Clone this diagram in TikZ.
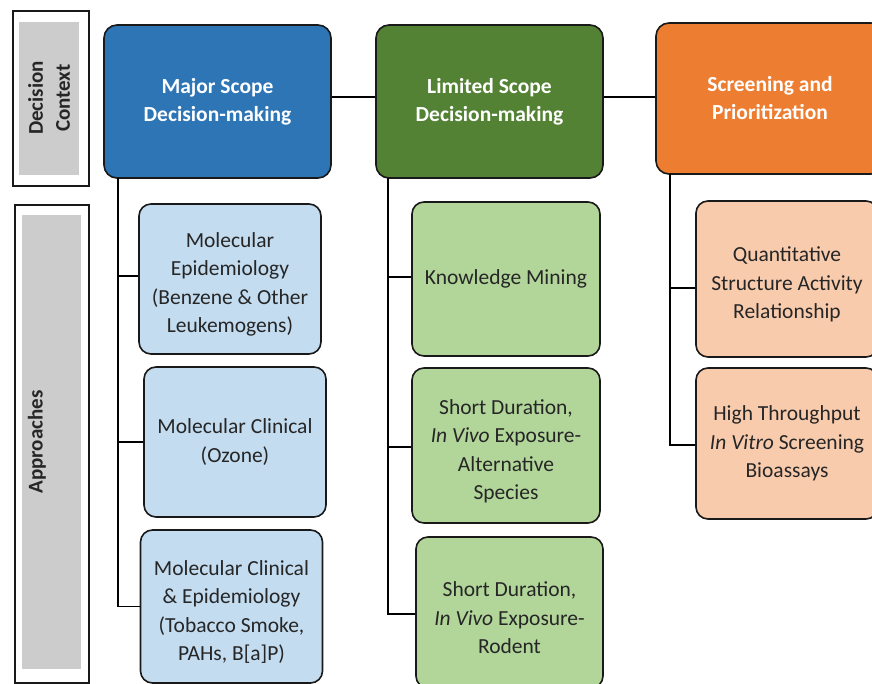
\documentclass[tikz,border=0pt]{standalone}
\usepackage{fontspec}
\setmainfont{Carlito}
\usepackage{tikz}
\usetikzlibrary{positioning}

\definecolor{majblue}{HTML}{2E75B6}
\definecolor{limgreen}{HTML}{548235}
\definecolor{scrorange}{HTML}{ED7D31}
\definecolor{lightblue}{HTML}{C3DCF0}
\definecolor{lightgreen}{HTML}{B2D69A}
\definecolor{lightpeach}{HTML}{F8CBAD}
\definecolor{labelgray}{HTML}{CCCCCC}
\definecolor{inktext}{HTML}{262626}

\newcommand{\topgap}{\rule{0pt}{26pt}}

\begin{document}
\begin{tikzpicture}[x=1pt,y=-1pt,line width=1.6pt,
	head/.style={draw=black!90,rounded corners=13pt,align=center,text=white,
		font=\fontsize{21.5}{28}\selectfont\bfseries,minimum width=227pt,minimum height=153pt},
	leaf/.style={draw=black!90,rounded corners=12pt,align=center,text=inktext,
		font=\fontsize{21.5}{28.5}\selectfont,minimum width=182pt,minimum height=150pt},
	sidebox/.style={draw=black!90,line width=1.3pt},
	sidetext/.style={rotate=90,align=center,text=inktext,font=\fontsize{21}{27}\selectfont\bfseries}]

\path[use as bounding box,clip] (0,0) rectangle (872,684);

% decision context
\draw[sidebox] (13,11) rectangle (89,186);
\fill[labelgray] (19,22) rectangle (79,175);
\node[sidetext]	(dc) at (49,98)	{Decision\\Context};

% approaches
\draw[sidebox] (15,205) rectangle (89,683);
\fill[labelgray] (22,215) rectangle (81,669);
\node[sidetext]	(ap) at (37,442)	{Approaches};

% top row
\node[head,fill=majblue]	(maj) at (217.5,101.5)	{Major Scope\\Decision-making};
\node[head,fill=limgreen]	(lim) at (489.5,101.5)	{Limited Scope\\Decision-making};
\node[head,fill=scrorange,minimum width=228pt,minimum height=151pt]	(scr) at (770,98.5)	{Screening and\\Prioritization};

% major scope approaches
\node[leaf,fill=lightblue]	(mol1) at (230,279)	{\topgap Molecular\\Epidemiology\\(Benzene \& Other\\Leukemogens)};
\node[leaf,fill=lightblue]	(mol2) at (235,442)	{Molecular Clinical\\(Ozone)};
\node[leaf,fill=lightblue,minimum height=153pt]	(mol3) at (231.5,606.5)	{\topgap Molecular Clinical\\\& Epidemiology\\(Tobacco Smoke,\\PAHs, B[a]P)};

% limited scope approaches
\node[leaf,fill=lightgreen,minimum width=188pt,minimum height=154pt]	(know) at (506,279)	{Knowledge Mining};
\node[leaf,fill=lightgreen,minimum width=188pt,minimum height=155pt]	(alt) at (506,445.5)	{\topgap Short Duration,\\\textit{In Vivo} Exposure-\\Alternative\\Species};
\node[leaf,fill=lightgreen,minimum width=187pt,minimum height=151pt]	(rod) at (509.5,612.5)	{\topgap Short Duration,\\\textit{In Vivo} Exposure-\\Rodent};

% screening approaches
\node[leaf,fill=lightpeach,minimum height=156pt]	(qsar) at (787,279)	{\topgap Quantitative\\Structure Activity\\Relationship};
\node[leaf,fill=lightpeach,minimum height=151pt]	(hts) at (787,443.5)	{High Throughput\\\textit{In Vitro} Screening\\Bioassays};

% connectors
\coordinate (tier) at (0,97);
\draw (maj.east |- tier) -- (lim.west |- tier);
\draw (lim.east |- tier) -- (scr.west |- tier);

\coordinate (mtop) at (118,178);
\draw (mtop) |- (mol3.west);
\draw ([yshift=3pt]mol1.west -| mtop) -- ([yshift=3pt]mol1.west);
\draw (mol2.west -| mtop) -- (mol2.west);

\coordinate (ltop) at (388,178);
\draw (ltop) |- ([yshift=-1.5pt]rod.west);
\draw ([yshift=2pt]know.west -| ltop) -- ([yshift=2pt]know.west);
\draw ([yshift=-1.5pt]alt.west -| ltop) -- ([yshift=-1.5pt]alt.west);

\coordinate (stop) at (670,174);
\draw (stop) |- ([yshift=-1.5pt]hts.west);
\draw ([yshift=-9pt]qsar.west -| stop) -- ([yshift=-9pt]qsar.west);
\end{tikzpicture}
\end{document}
